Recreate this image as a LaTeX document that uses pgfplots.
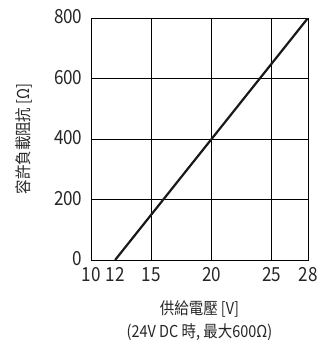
\documentclass[border=0pt]{standalone}
\usepackage{fontspec}
\setmainfont{Noto Sans CJK TC}[FakeStretch=0.88]
\usepackage{pgfplots}
\pgfplotsset{compat=1.18}
\begin{document}
\begin{tikzpicture}
\begin{axis}[
  scale only axis,
  width=217bp, height=242bp,
  xmin=10, xmax=28, ymin=0, ymax=800,
  xtick={15,20,25}, extra x ticks={10,12,28},
  extra x tick style={grid=none},
  ytick={0,200,400,600,800},
  grid=major,
  major grid style={black, line width=0.8bp},
  axis line style={black, line width=0.9bp},
  major tick length=0pt,
  /pgf/number format/assume math mode=true,
  tick label style={font=\fontsize{19.5}{22}\selectfont, text=black!85},
  xticklabel style={yshift=-4bp},
  yticklabel style={xshift=-5bp, yshift=1bp},
  xlabel={供給電壓 [V]\\(24V DC 時, 最大600Ω)},
  ylabel={容許負載阻抗 [Ω]},
  label style={font=\fontsize{16.5}{23}\selectfont, text=black!85},
  x label style={at={(axis description cs:0.5,0)}, anchor=center, yshift=-61bp, align=center},
  y label style={at={(axis description cs:0,0.5)}, anchor=center, yshift=67bp},
]
\addplot[black!90, line width=2.2bp] coordinates {(12,0) (28,800)};
\coordinate (SW) at (rel axis cs:0,0);
\coordinate (NE) at (rel axis cs:1,1);
\end{axis}
\pgfresetboundingbox
\path[use as bounding box] ([shift={(-91bp,-80bp)}]SW) rectangle ([shift={(8bp,18bp)}]NE);
\end{tikzpicture}
\end{document}
